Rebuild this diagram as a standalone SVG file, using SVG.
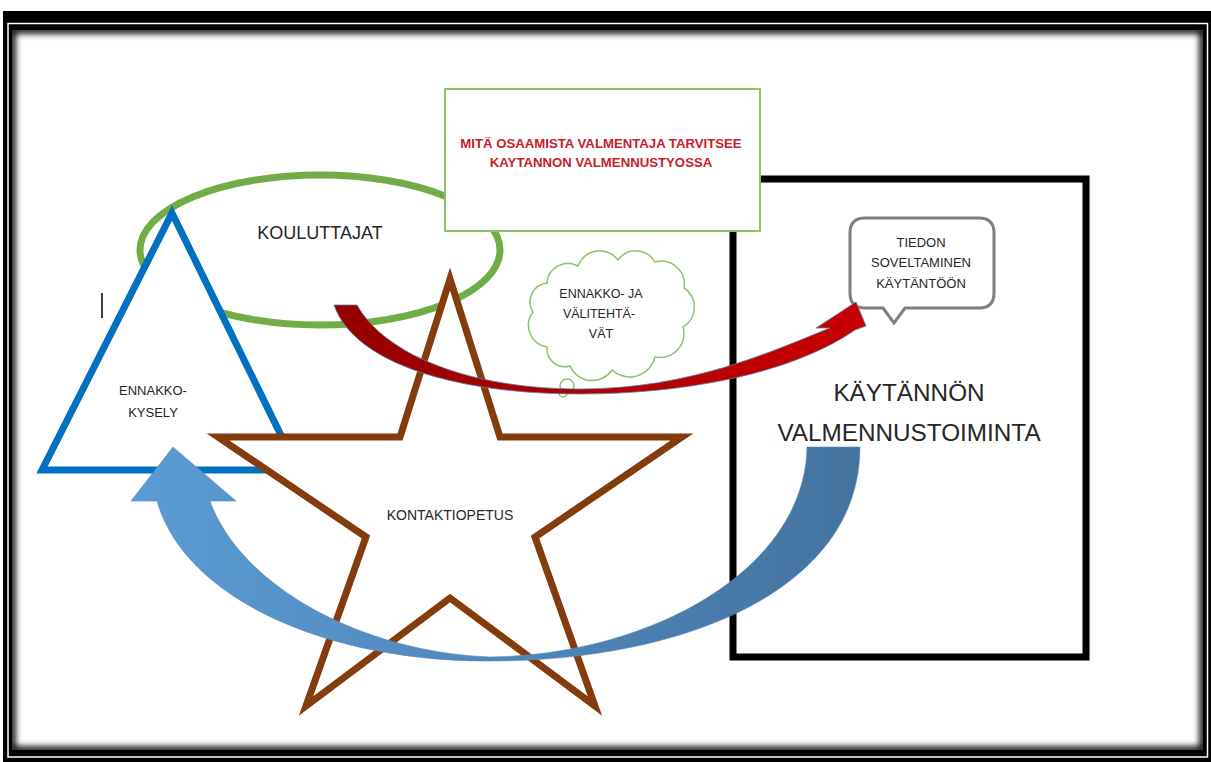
<svg xmlns="http://www.w3.org/2000/svg" width="1211" height="762" viewBox="0 0 1211 762">
<style>
.t{font-family:"Liberation Sans",Arial,sans-serif;fill:#262626;text-anchor:middle;dominant-baseline:central}
.red{font-family:"Liberation Sans",Arial,sans-serif;fill:#C8202A;font-weight:bold;text-anchor:middle;dominant-baseline:central;font-size:13.2px}
</style>
<defs>
<clipPath id="inner"><rect x="12" y="30" width="1191" height="720"/></clipPath>
<filter id="blur" x="-5%" y="-5%" width="110%" height="110%"><feGaussianBlur stdDeviation="3"/></filter>
<linearGradient id="redg" x1="334" y1="0" x2="862" y2="0" gradientUnits="userSpaceOnUse">
<stop offset="0" stop-color="#960000"/><stop offset="1" stop-color="#C80000"/>
</linearGradient>
<linearGradient id="blueg" x1="131" y1="0" x2="860" y2="0" gradientUnits="userSpaceOnUse">
<stop offset="0" stop-color="#5B9BD5"/><stop offset="1" stop-color="#44739F"/>
</linearGradient>
</defs>
<g id="frame">
<rect x="3" y="11" width="1208" height="751" fill="#000"/>
<rect x="8" y="23.5" width="1199.5" height="733.5" fill="none" stroke="#fff" stroke-width="1.5"/>
<rect x="12" y="30" width="1191" height="720" fill="#fff"/>
<g clip-path="url(#inner)"><rect x="12" y="30" width="1191" height="720" fill="none" stroke="#000" stroke-width="7" filter="url(#blur)"/></g>
</g>
<g id="practice-box">
<rect x="733" y="179" width="353" height="478" fill="none" stroke="#000" stroke-width="7"/>
<text class="t" x="909" y="392" font-size="24.3">KÄYTÄNNÖN</text>
<text class="t" x="909" y="432" font-size="24.3">VALMENNUSTOIMINTA</text>
</g>
<g id="kouluttajat">
<ellipse cx="320" cy="250" rx="180" ry="75" fill="none" stroke="#70AD47" stroke-width="7"/>
<text class="t" x="320" y="233" font-size="18">KOULUTTAJAT</text>
</g>
<g id="ennakkokysely">
<polygon points="172,213 42,470 298,470" fill="#fff" stroke="#0070C0" stroke-width="7" stroke-linejoin="miter"/>
<text class="t" x="153" y="390" font-size="13">ENNAKKO-</text>
<text class="t" x="153" y="412" font-size="13">KYSELY</text>
</g>
<line id="cursor" x1="102" y1="293" x2="102" y2="318" stroke="#000" stroke-width="1.5"/>
<g id="kontaktiopetus">
<polygon points="450,279 400,437 218,437 366,537 306,706 450,598 595,706 535,537 682,437 500,437" fill="#fff" stroke="#843C0C" stroke-width="7" stroke-linejoin="miter"/>
<text class="t" x="450" y="515" font-size="14">KONTAKTIOPETUS</text>
</g>
<g id="question-box">
<rect x="445" y="89" width="315" height="142" fill="#fff" stroke="#8CC36A" stroke-width="2"/>
<text class="red" x="601" y="143">MITÄ OSAAMISTA VALMENTAJA TARVITSEE</text>
<text class="red" x="601" y="162">KAYTANNON VALMENNUSTYOSSA</text>
</g>
<g id="tehtavat">
<path d="M547,347 A22,22 0 0 1 533,312 A19,19 0 0 1 547,283 A21,21 0 0 1 578,266 A23,23 0 0 1 618,260 A22,22 0 0 1 655,262 A23,23 0 0 1 684,288 A23,23 0 0 1 683,327 A24,24 0 0 1 655,357 A26,26 0 0 1 612,370 A24,24 0 0 1 570,366 A18,18 0 0 1 547,347 Z" fill="#fff" stroke="#8CC36A" stroke-width="1.5"/>
<circle cx="567" cy="386" r="7" fill="#fff" stroke="#8CC36A" stroke-width="1.5"/>
<circle cx="563" cy="393" r="4" fill="#fff" stroke="#8CC36A" stroke-width="1.5"/>
<text class="t" x="601" y="294" font-size="12.5">ENNAKKO- JA</text>
<text class="t" x="599" y="314" font-size="12.5">VÄLITEHTÄ-</text>
<text class="t" x="601" y="334" font-size="12.5">VÄT</text>
</g>
<g id="tiedon-soveltaminen">
<path d="M865,218 H979 Q994,218 994,233 V293 Q994,308 979,308 H905 L894,323 L883,308 H865 Q850,308 850,293 V233 Q850,218 865,218 Z" fill="#fff" stroke="#7F7F7F" stroke-width="3"/>
<text class="t" x="921" y="242" font-size="13">TIEDON</text>
<text class="t" x="921" y="262" font-size="13">SOVELTAMINEN</text>
<text class="t" x="921" y="283" font-size="13">KÄYTÄNTÖÖN</text>
</g>
<g id="connectors">
<path d="M334,305 C355,365 460,394 580,394 C680,394 790,375 855,330 L866,326 L856,302 L816,328 L830,328 C770,352 690,389 580,389 C470,389 385,355 357,305 Z" fill="url(#redg)" stroke="#5B7FA8" stroke-width="0.8"/>
<path d="M173,447 L236,501 L210,501 C240,585 360,652 490,657 C650,655 805,570 807,447 L860,447 C860,592 680,661 490,661 C330,662 185,600 157,501 L131,501 Z" fill="url(#blueg)" stroke="#5B8CC0" stroke-width="0.6"/>
</g>
</svg>
